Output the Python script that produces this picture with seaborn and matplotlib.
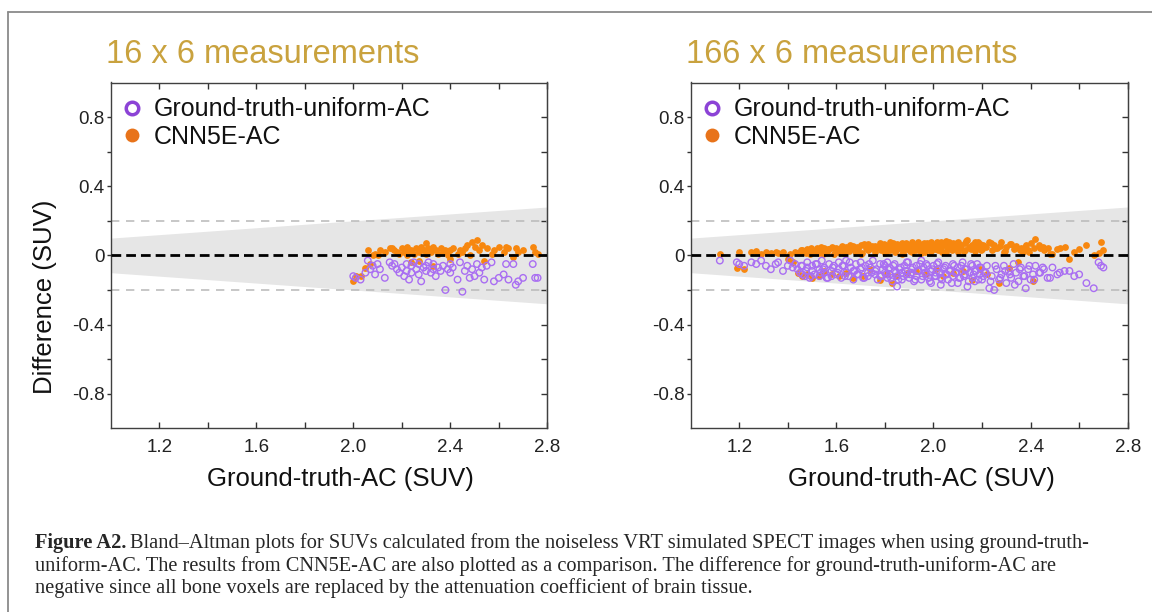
import numpy as np
import matplotlib
matplotlib.use("Agg")
import matplotlib.pyplot as plt
import seaborn as sns
from matplotlib.lines import Line2D

sns.set_style("white")
plt.rcParams["font.family"] = ["Liberation Sans", "DejaVu Sans"]

# ---- values ----
titles = ["16 x 6 measurements", "166 x 6 measurements"]
legend_labels = ["Ground-truth-uniform-AC", "CNN5E-AC"]
x_label = "Ground-truth-AC (SUV)"
y_label = "Difference (SUV)"
x_tick_labels = ["1.2", "1.6", "2.0", "2.4", "2.8"]
y_tick_labels = ["0.8", "0.4", "0", "-0.4", "-0.8"]
band_x = [1.0, 2.8]
band_frac = 0.1          # grey band = +/- 10 % of SUV
limit_lines = [-0.2, 0.2]

# 16 x 6 panel: ground-truth SUV and the two differences
small_suv = [
    2.00, 2.01, 2.03, 2.05, 2.06, 2.07, 2.08, 2.09, 2.10, 2.11,
    2.13, 2.15, 2.16, 2.17, 2.18, 2.19, 2.20, 2.21, 2.22, 2.22,
    2.23, 2.24, 2.24, 2.25, 2.26, 2.27, 2.27, 2.28, 2.29, 2.30,
    2.30, 2.31, 2.32, 2.33, 2.33, 2.34, 2.35, 2.36, 2.37, 2.38,
    2.39, 2.40, 2.40, 2.41, 2.43, 2.44, 2.45, 2.46, 2.47, 2.48,
    2.49, 2.50, 2.51, 2.52, 2.53, 2.54, 2.55, 2.57, 2.58, 2.60,
    2.62, 2.63, 2.64, 2.66, 2.67, 2.68, 2.70, 2.74, 2.75, 2.76,
]
small_cnn = [
    -0.15, -0.12, -0.12, -0.07, 0.03, -0.05, 0.00, 0.01, 0.00, 0.03,
    0.02, 0.04, 0.04, 0.03, 0.02, 0.01, 0.04, 0.02, 0.00, 0.05,
    0.02, 0.03, -0.04, 0.01, 0.04, 0.02, -0.03, 0.05, 0.03, 0.07,
    0.01, 0.04, 0.02, 0.05, -0.06, 0.03, 0.01, 0.04, 0.02, 0.03,
    0.00, 0.03, -0.02, 0.04, 0.01, 0.03, 0.02, 0.04, 0.06, 0.00,
    0.08, 0.05, 0.09, 0.03, 0.06, -0.03, 0.04, 0.01, 0.03, 0.05,
    0.02, 0.05, 0.04, -0.01, 0.04, 0.02, 0.03, 0.05, 0.02, 0.01,
]
small_uniform = [
    -0.12, -0.13, -0.14, -0.10, -0.03, -0.08, -0.06, -0.11, -0.05, -0.08,
    -0.13, -0.04, -0.06, -0.05, -0.08, -0.10, -0.07, -0.12, -0.05, -0.09,
    -0.14, -0.06, -0.10, -0.04, -0.08, -0.11, -0.05, -0.15, -0.07, -0.09,
    -0.06, -0.04, -0.10, -0.08, -0.05, -0.12, -0.07, -0.09, -0.06, -0.20,
    -0.08, -0.10, -0.05, -0.07, -0.14, -0.04, -0.21, -0.09, -0.06, -0.13,
    -0.08, -0.12, -0.05, -0.10, -0.07, -0.14, -0.06, -0.04, -0.15, -0.13,
    -0.11, -0.05, -0.14, -0.05, -0.17, -0.15, -0.13, -0.05, -0.13, -0.13,
]

# 166 x 6 panel
big_suv = [
    1.12, 1.19, 1.20, 1.22, 1.25, 1.27, 1.29, 1.31, 1.33, 1.35,
    1.36, 1.38, 1.40, 1.41, 1.42, 1.43, 1.44, 1.45, 1.46, 1.46,
    1.47, 1.48, 1.48, 1.49, 1.50, 1.50, 1.51, 1.52, 1.53, 1.53,
    1.54, 1.55, 1.55, 1.56, 1.57, 1.58, 1.58, 1.59, 1.60, 1.61,
    1.61, 1.62, 1.63, 1.64, 1.64, 1.65, 1.66, 1.67, 1.67, 1.68,
    1.69, 1.70, 1.70, 1.71, 1.72, 1.73, 1.73, 1.74, 1.75, 1.76,
    1.76, 1.77, 1.78, 1.78, 1.79, 1.80, 1.80, 1.81, 1.81, 1.82,
    1.82, 1.83, 1.84, 1.84, 1.85, 1.85, 1.86, 1.87, 1.87, 1.88,
    1.89, 1.89, 1.90, 1.91, 1.91, 1.92, 1.93, 1.93, 1.94, 1.95,
    1.95, 1.96, 1.97, 1.97, 1.98, 1.99, 1.99, 2.00, 2.01, 2.01,
    2.02, 2.03, 2.03, 2.04, 2.05, 2.05, 2.06, 2.07, 2.08, 2.08,
    2.09, 2.10, 2.10, 2.11, 2.12, 2.13, 2.13, 2.14, 2.15, 2.16,
    2.16, 2.17, 2.17, 2.18, 2.19, 2.19, 2.20, 2.21, 2.22, 2.23,
    2.24, 2.25, 2.26, 2.27, 2.28, 2.29, 2.30, 2.31, 2.32, 2.33,
    2.34, 2.35, 2.36, 2.37, 2.38, 2.39, 2.40, 2.41, 2.42, 2.44,
    2.45, 2.48, 2.52, 2.56, 2.60, 2.63, 2.66, 2.68, 2.69, 2.70,
    1.455, 1.475, 1.495, 1.515, 1.535, 1.545, 1.565, 1.585, 1.605, 1.625,
    1.635, 1.655, 1.675, 1.685, 1.705, 1.715, 1.735, 1.745, 1.765, 1.785,
    1.795, 1.805, 1.815, 1.825, 1.835, 1.845, 1.855, 1.865, 1.875, 1.885,
    1.895, 1.905, 1.915, 1.925, 1.935, 1.945, 1.955, 1.965, 1.975, 1.985,
    1.995, 2.005, 2.015, 2.025, 2.035, 2.045, 2.055, 2.065, 2.075, 2.085,
    2.095, 2.105, 2.115, 2.125, 2.135, 2.145, 2.155, 2.165, 2.175, 2.185,
    2.195, 2.205, 2.215, 2.235, 2.255, 2.275, 2.295, 2.315, 2.335, 2.355,
    2.375, 2.395, 2.415, 2.435, 2.455, 2.47, 2.49, 2.51, 2.54, 2.58,
]
big_cnn = [
    0.01, -0.07, 0.02, -0.08, 0.02, 0.025, 0.01, 0.02, 0.015, 0.02,
    0.015, 0.02, -0.02, 0.01, -0.04, 0.02, -0.10, 0.02, 0.03, -0.12,
    0.02, 0.035, -0.11, 0.01, 0.03, -0.13, 0.025, 0.04, -0.12, 0.015,
    0.03, -0.09, 0.045, 0.02, 0.035, -0.11, 0.05, 0.01, 0.04, -0.12,
    0.03, 0.045, 0.015, -0.10, 0.05, 0.025, 0.04, 0.055, -0.13, 0.02,
    0.035, 0.06, 0.01, -0.12, 0.045, 0.03, 0.065, -0.08, 0.04, 0.055,
    0.02, 0.05, 0.07, -0.14, 0.035, 0.06, 0.015, -0.11, 0.045, 0.075,
    0.03, -0.16, 0.055, 0.02, 0.065, -0.12, 0.04, 0.07, 0.01, 0.05,
    0.035, -0.10, 0.06, 0.02, 0.075, 0.045, -0.09, 0.03, 0.065, 0.05,
    0.015, 0.07, 0.04, -0.11, 0.06, 0.025, 0.08, 0.045, -0.08, 0.065,
    0.03, 0.075, 0.05, -0.12, 0.02, 0.085, 0.04, 0.06, -0.10, 0.07,
    0.045, 0.02, 0.08, 0.055, -0.09, 0.03, 0.07, 0.09, 0.04, -0.14,
    0.06, 0.025, 0.075, 0.045, -0.08, 0.065, 0.035, 0.055, -0.11, 0.08,
    0.03, 0.06, 0.045, -0.16, 0.075, 0.02, 0.05, -0.07, 0.065, 0.035,
    0.055, -0.04, 0.045, 0.02, 0.06, 0.03, 0.07, -0.15, 0.095, 0.04,
    0.05, 0.01, 0.045, -0.02, 0.035, 0.06, 0.00, 0.015, 0.075, 0.03,
    0.03, 0.015, 0.04, 0.025, 0.05, 0.01, 0.035, 0.045, 0.02, 0.055,
    0.04, 0.06, 0.025, 0.05, 0.015, 0.065, 0.035, 0.055, 0.045, 0.03,
    0.065, 0.02, 0.055, 0.04, 0.07, 0.03, 0.06, 0.045, 0.015, 0.07,
    0.05, 0.025, 0.065, 0.04, 0.08, 0.03, 0.055, 0.02, 0.07, 0.045,
    0.06, 0.035, 0.075, 0.05, 0.02, 0.065, 0.045, 0.08, 0.03, 0.055,
    0.07, 0.04, 0.06, 0.025, 0.085, 0.05, 0.035, 0.065, 0.045, 0.075,
    0.03, 0.06, 0.05, 0.07, 0.04, 0.055, 0.025, 0.065, 0.045, 0.03,
    0.05, 0.02, 0.04, 0.06, 0.03, 0.045, 0.01, 0.035, 0.05, 0.02,
]
big_uniform = [
    -0.03, -0.04, -0.05, -0.06, -0.04, -0.05, -0.03, -0.06, -0.08, -0.05,
    -0.04, -0.09, -0.06, -0.03, -0.07, -0.05, -0.08, -0.10, -0.06, -0.11,
    -0.12, -0.07, -0.04, -0.13, -0.09, -0.06, -0.11, -0.05, -0.08, -0.12,
    -0.03, -0.10, -0.07, -0.13, -0.05, -0.09, -0.12, -0.06, -0.11, -0.04,
    -0.08, -0.13, -0.06, -0.10, -0.03, -0.12, -0.07, -0.09, -0.14, -0.05,
    -0.11, -0.08, -0.04, -0.13, -0.06, -0.10, -0.12, -0.07, -0.03, -0.11,
    -0.09, -0.14, -0.05, -0.12, -0.08, -0.10, -0.06, -0.13, -0.04, -0.11,
    -0.07, -0.15, -0.09, -0.05, -0.18, -0.12, -0.08, -0.10, -0.14, -0.06,
    -0.11, -0.04, -0.13, -0.08, -0.10, -0.15, -0.06, -0.12, -0.09, -0.03,
    -0.14, -0.07, -0.11, -0.05, -0.13, -0.09, -0.16, -0.06, -0.12, -0.10,
    -0.04, -0.13, -0.17, -0.08, -0.11, -0.06, -0.14, -0.09, -0.12, -0.05,
    -0.10, -0.16, -0.07, -0.13, -0.04, -0.11, -0.08, -0.18, -0.10, -0.06,
    -0.13, -0.09, -0.15, -0.05, -0.11, -0.07, -0.14, -0.10, -0.06, -0.19,
    -0.12, -0.20, -0.08, -0.14, -0.11, -0.06, -0.16, -0.09, -0.13, -0.05,
    -0.10, -0.15, -0.07, -0.12, -0.19, -0.08, -0.14, -0.11, -0.06, -0.10,
    -0.07, -0.13, -0.10, -0.09, -0.11, -0.16, -0.19, -0.04, -0.06, -0.07,
    -0.06, -0.09, -0.12, -0.05, -0.10, -0.08, -0.13, -0.07, -0.10, -0.06,
    -0.12, -0.04, -0.09, -0.11, -0.07, -0.13, -0.05, -0.10, -0.08, -0.12,
    -0.05, -0.11, -0.08, -0.13, -0.06, -0.10, -0.14, -0.07, -0.12, -0.09,
    -0.04, -0.11, -0.07, -0.14, -0.09, -0.05, -0.12, -0.10, -0.06, -0.15,
    -0.08, -0.12, -0.05, -0.10, -0.14, -0.07, -0.11, -0.09, -0.16, -0.06,
    -0.10, -0.13, -0.06, -0.12, -0.08, -0.15, -0.05, -0.11, -0.09, -0.14,
    -0.07, -0.12, -0.10, -0.15, -0.06, -0.13, -0.09, -0.11, -0.17, -0.08,
    -0.12, -0.06, -0.14, -0.10, -0.08, -0.13, -0.07, -0.11, -0.09, -0.12,
]

caption_bold = "Figure A2."
caption_lines = [
    "Bland\u2013Altman plots for SUVs calculated from the noiseless VRT simulated SPECT images when using ground-truth-",
    "uniform-AC. The results from CNN5E-AC are also plotted as a comparison. The difference for ground-truth-uniform-AC are",
    "negative since all bone voxels are replaced by the attenuation coefficient of brain tissue.",
]

# ---- styling ----
gold = "#C9A23E"
purple = "#A96EF2"
purple_dark = "#8C43D6"
orange = "#F7870F"
orange_dark = "#E8731A"
band_grey = "#E6E6E6"

W, H = 1152, 612
fig = plt.figure(figsize=(W / 100, H / 100), dpi=100)

# grey frame around figure (top and left edges visible)
fig.add_artist(Line2D([8 / W, 8 / W], [0, 1 - 12 / H], color="#8a8a8a", lw=1.3,
                      transform=fig.transFigure))
fig.add_artist(Line2D([8 / W, 1], [1 - 12 / H, 1 - 12 / H], color="#8a8a8a", lw=1.3,
                      transform=fig.transFigure))

axes = [fig.add_axes([110.7 / W, 1 - 428.3 / H, 436.6 / W, 345.8 / H]),
        fig.add_axes([690.7 / W, 1 - 428.3 / H, 437.0 / W, 345.8 / H])]
panels = [(small_suv, small_cnn, small_uniform), (big_suv, big_cnn, big_uniform)]

yt = np.round(np.arange(-0.8, 0.81, 0.2), 1)
xt = np.round(np.arange(1.2, 2.81, 0.2), 1)

for i, (ax, (suv, cnn, uni)) in enumerate(zip(axes, panels)):
    bx = np.array(band_x)
    ax.fill_between(bx, -band_frac * bx, band_frac * bx, color=band_grey, lw=0, zorder=0)
    for yl in limit_lines:
        ax.axhline(yl, color="#bdbdbd", lw=1.2, dashes=(5, 4), zorder=1)

    sns.scatterplot(x=suv, y=cnn, ax=ax, color=orange, s=24, linewidth=0, zorder=3)
    sns.scatterplot(x=suv, y=uni, ax=ax, facecolor="none", edgecolor=purple, s=22,
                    linewidth=1.0, zorder=4)
    ax.axhline(0, color="black", lw=2, dashes=(3.5, 1.8), zorder=5)

    ax.set_xlim(1.0, 2.8)
    ax.set_ylim(-1.0, 1.0)
    ax.set_xticks(xt)
    ax.set_xticklabels([f"{v:.1f}" if f"{v:.1f}" in x_tick_labels else "" for v in xt])
    ax.set_yticks(yt)
    ylabs = []
    for v in yt:
        s = "0" if abs(v) < 1e-9 else f"{v:.1f}"
        ylabs.append(s if s in y_tick_labels else "")
    ax.set_yticklabels(ylabs)
    ax.tick_params(axis="x", direction="in", top=True, bottom=True, length=4, width=1,
                   pad=8, labelsize=13.5, labelcolor="#222222", color="#333333")
    ax.tick_params(axis="y", direction="out", left=True, right=False, length=3, width=1,
                   pad=1.5, labelsize=13.5, labelcolor="#222222", color="#333333")
    sec = ax.secondary_yaxis("right")
    sec.set_yticks(yt)
    sec.tick_params(direction="in", length=4, width=1, labelright=False, color="#333333")
    sec.spines["right"].set_color("#404040")
    for sp in ax.spines.values():
        sp.set_color("#404040")
        sp.set_linewidth(1.0)

    ax.set_xlabel(x_label, fontsize=18.5, color="#111111")
    ax.xaxis.set_label_coords(0.527, -0.112)
    if i == 0:
        ax.set_ylabel(y_label, fontsize=18.5, color="#111111")
        ax.yaxis.set_label_coords(-0.124, 0.38)
    else:
        ax.set_ylabel("")

    ax.text(-0.011, 1.056, titles[i], transform=ax.transAxes, fontsize=23.5,
            color=gold, ha="left", va="baseline")

    handles = [
        Line2D([], [], ls="", marker="o", ms=9, mfc="none", mec=purple_dark, mew=2.5),
        Line2D([], [], ls="", marker="o", ms=10, mfc=orange_dark, mec=orange_dark, mew=0),
    ]
    ax.legend(handles, legend_labels, loc="upper left", bbox_to_anchor=(-0.014, 1.0),
              frameon=False, fontsize=18, handlelength=1.0, handletextpad=0.35,
              borderaxespad=0.25, borderpad=0.35, labelspacing=0.12,
              labelcolor="#111111")

# caption with bold lead-in
renderer = fig.canvas.get_renderer()
cap_y = [543, 566, 588]
cap_size = 14.7
t = fig.text(35 / W, 1 - cap_y[0] / H, caption_bold, family="Liberation Serif",
             fontsize=cap_size, fontweight="bold", va="center", ha="left")
bb = t.get_window_extent(renderer)
fig.text(bb.x1 / W + 4 / W, 1 - cap_y[0] / H, caption_lines[0], family="Liberation Serif",
         fontsize=cap_size, va="center", ha="left")
for yy, line in zip(cap_y[1:], caption_lines[1:]):
    fig.text(35 / W, 1 - yy / H, line, family="Liberation Serif", fontsize=cap_size,
             va="center", ha="left")

fig.savefig("out.png", dpi=100)
